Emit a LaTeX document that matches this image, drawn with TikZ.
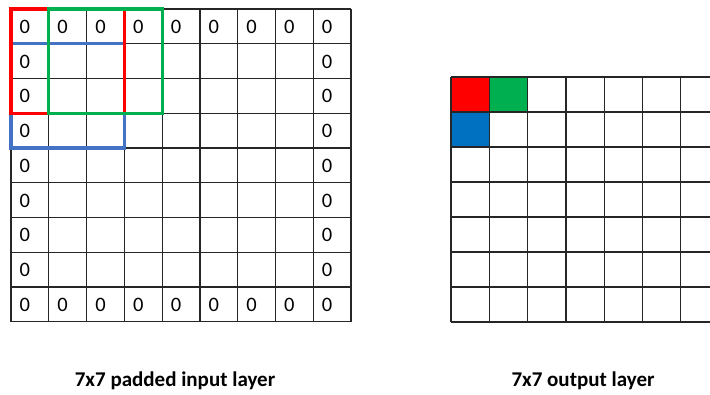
\documentclass[tikz,border=0pt]{standalone}
\usepackage{fontspec}
\setmainfont{Carlito}
\definecolor{winred}{RGB}{255,0,0}
\definecolor{wingreen}{RGB}{0,176,80}
\definecolor{winblue}{RGB}{68,114,196}
\definecolor{cellblue}{RGB}{0,112,192}
\begin{document}
\begin{tikzpicture}[x=1pt,y=-1pt,
  gridline/.style={draw=black!85,line width=1.2pt},
  zero/.style={anchor=base west,inner sep=0pt,font=\fontsize{20.5}{20.5}\selectfont},
  caption/.style={anchor=base,inner sep=0pt,font=\bfseries\fontsize{21}{21}\selectfont},
  window/.style={line width=3.2pt}]
\useasboundingbox (0,0) rectangle (710,394);
\clip (0,0) rectangle (710,394);
% padded input grid: 9x9 cells
\def\lx{11}\def\ly{9}\def\lw{37.78}\def\lh{34.75}
\foreach \i in {0,...,9}{
  \draw[gridline] ({\lx+\i*\lw},\ly) -- ({\lx+\i*\lw},{\ly+9*\lh});
  \draw[gridline] (\lx,{\ly+\i*\lh}) -- ({\lx+9*\lw},{\ly+\i*\lh});
}
% zero padding along the border
\foreach \c in {0,...,8}{
  \node[zero] (top\c) at ({\lx+\c*\lw+8.5},{\ly+24.3}) {0};
  \node[zero] (bot\c) at ({\lx+\c*\lw+8.5},{\ly+8*\lh+24.3}) {0};
}
\foreach \r in {1,...,7}{
  \node[zero] (lft\r) at ({\lx+8.5},{\ly+\r*\lh+24.3}) {0};
  \node[zero] (rgt\r) at ({\lx+8*\lw+8.5},{\ly+\r*\lh+24.3}) {0};
}
% 3x3 filter windows
\draw[window,draw=winblue]
  (\lx,{\ly+\lh}) rectangle ({\lx+3*\lw},{\ly+4*\lh});
\draw[window,draw=winred]
  (\lx,\ly) rectangle ({\lx+3*\lw},{\ly+3*\lh});
\draw[window,draw=wingreen]
  ({\lx+\lw},\ly) rectangle ({\lx+4*\lw},{\ly+3*\lh});
% output grid: 7x7 cells
\def\rx{451}\def\ry{77}\def\rw{38.3}\def\rh{35}
\fill[winred] (\rx,\ry) rectangle ({\rx+\rw},{\ry+\rh});
\fill[wingreen] ({\rx+\rw},\ry) rectangle ({\rx+2*\rw},{\ry+\rh});
\fill[cellblue] (\rx,{\ry+\rh}) rectangle ({\rx+\rw},{\ry+2*\rh});
\foreach \i in {0,...,7}{
  \draw[gridline] ({\rx+\i*\rw},\ry) -- ({\rx+\i*\rw},{\ry+7*\rh});
  \draw[gridline] (\rx,{\ry+\i*\rh}) -- ({\rx+7*\rw},{\ry+\i*\rh});
}
% captions
\node[caption] (inlabel) at (175,386) {7x7 padded input layer};
\node[caption] (outlabel) at (583,386.5) {7x7 output layer};
\end{tikzpicture}
\end{document}
